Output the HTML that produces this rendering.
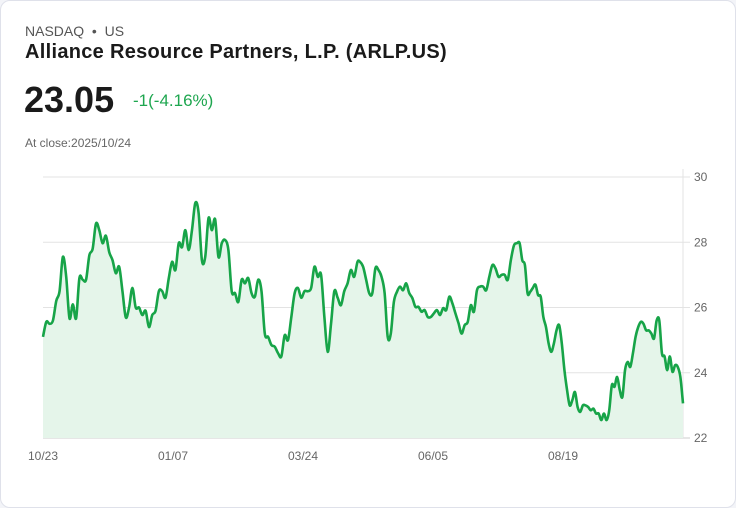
<!DOCTYPE html>
<html><head><meta charset="utf-8"><style>
body{margin:0;width:736px;height:508px;background:#f3f4f8;font-family:"Liberation Sans",sans-serif;overflow:hidden}
.card{position:absolute;left:0;top:0;width:734px;height:506px;background:#fff;border:1px solid #dfe1ea;border-radius:10px}
.t{position:absolute;white-space:nowrap}
</style></head><body>
<div class="card"></div>
<div class="t" style="left:25px;top:23px;font-size:14px;color:#555">NASDAQ &nbsp;•&nbsp; US</div>
<div class="t" style="left:25px;top:41px;font-size:20px;letter-spacing:0.3px;font-weight:bold;color:#1a1a1a">Alliance Resource Partners, L.P. (ARLP.US)</div>
<div class="t" style="left:24px;top:79px;font-size:36px;font-weight:bold;color:#1a1a1a">23.05</div>
<div class="t" style="left:133px;top:91px;font-size:17px;color:#1ea64f">-1(-4.16%)</div>
<div class="t" style="left:25px;top:136px;font-size:12px;color:#666">At close:2025/10/24</div>
<svg id="chart" width="736" height="508" style="position:absolute;left:0;top:0"></svg>
<script>
const prices=[25.10,25.56,25.5,25.6,26.2,26.5,27.55,26.95,25.67,26.1,25.67,26.9,26.85,26.85,27.6,27.8,28.57,28.37,27.97,28.2,27.7,27.45,27.05,27.25,26.5,25.7,26.0,26.6,26.0,26.0,25.77,25.9,25.4,25.77,25.9,26.5,26.5,26.3,26.9,27.4,27.15,27.97,27.85,28.37,27.76,28.37,29.2,28.9,27.45,27.55,28.74,28.37,28.7,27.55,27.97,28.07,27.76,26.5,26.44,26.17,26.85,26.74,26.9,26.44,26.33,26.85,26.5,25.2,25.1,24.85,24.8,24.6,24.5,25.15,25.0,25.7,26.43,26.6,26.3,26.5,26.5,26.6,27.25,26.94,27.0,25.7,24.64,25.5,26.5,26.3,26.07,26.5,26.74,27.15,26.94,27.4,27.4,27.25,26.85,26.44,26.44,27.2,27.15,26.94,26.44,25.1,25.2,26.17,26.48,26.64,26.53,26.74,26.44,26.29,26.02,26.02,25.87,25.92,25.71,25.71,25.82,25.92,25.77,25.98,25.92,26.33,26.13,25.82,25.52,25.2,25.46,25.56,26.07,25.87,26.53,26.64,26.64,26.53,26.94,27.3,27.2,26.94,27.0,27.0,26.85,27.45,27.9,27.97,27.97,27.45,27.3,26.44,26.48,26.6,26.7,26.38,26.33,25.71,25.4,24.9,24.64,24.9,25.3,25.46,24.9,24.08,23.47,23.0,23.16,23.41,22.95,22.8,23.0,23.0,22.95,22.85,22.9,22.75,22.75,22.55,22.75,22.55,22.85,23.62,23.57,23.87,23.47,23.26,24.08,24.33,24.18,24.6,25.1,25.4,25.56,25.5,25.3,25.3,25.2,25.05,25.6,25.6,24.6,24.5,24.08,24.5,24.03,24.23,24.18,23.87,23.06];
const yTicks=[22,24,26,28,30];
const xLabels=["10/23","01/07","03/24","06/05","08/19"];
const X0=43,X1=683,Y0=438,Y1=177,VMIN=22,VMAX=30;
const svg=document.getElementById('chart');
const NS='http://www.w3.org/2000/svg';
function xs(i){
  const n=prices.length;
  const ki=[0,95,96,147,n-1], kx=[X0,357.5,360,517,X1];
  for(let k=0;k<ki.length-1;k++){
    if(i<=ki[k+1]) return kx[k]+(kx[k+1]-kx[k])*(i-ki[k])/(ki[k+1]-ki[k]);
  }
  return X1;
}
function ys(v){return Y0-(v-VMIN)/(VMAX-VMIN)*(Y0-Y1);}
function mk(t,a){const e=document.createElementNS(NS,t);for(const k in a)e.setAttribute(k,a[k]);svg.appendChild(e);return e;}
yTicks.forEach(v=>{
  const g=mk('line',{x1:X0,x2:690,y1:ys(v),y2:ys(v),stroke:v===VMIN?'#ccc':'#e3e3e3','stroke-width':1});
  
  
  const t=mk('text',{x:694,y:ys(v)+4,'font-size':12,fill:'#666','font-family':'Liberation Sans, sans-serif'});
  t.textContent=v;
  
  
});
const ax=mk('line',{x1:X1,x2:X1,y1:Y1-8,y2:Y0,stroke:'#e3e3e3','stroke-width':1});


xLabels.forEach((l,i)=>{
  const t=mk('text',{x:28+130*i,y:460,'font-size':12,fill:'#666','font-family':'Liberation Sans, sans-serif','textLength':30});
  t.textContent=l;
  
  
});
const pts=prices.map((v,i)=>[xs(i),ys(v)]);
let d='M'+pts[0][0]+','+pts[0][1];
for(let i=0;i<pts.length-1;i++){
  const p0=pts[Math.max(0,i-1)],p1=pts[i],p2=pts[i+1],p3=pts[Math.min(pts.length-1,i+2)];
  const c1x=p1[0]+(p2[0]-p0[0])/6,c1y=p1[1]+(p2[1]-p0[1])/6;
  const c2x=p2[0]-(p3[0]-p1[0])/6,c2y=p2[1]-(p3[1]-p1[1])/6;
  d+=`C${c1x},${c1y} ${c2x},${c2y} ${p2[0]},${p2[1]}`;
}
const area=mk('path',{d:d+`L${X1},${Y0}L${X0},${Y0}Z`,fill:'#e5f5ea'});


const line=mk('path',{d:d,fill:'none',stroke:'#17a448','stroke-width':2.6,'stroke-linejoin':'round'});


</script>
</body></html>
